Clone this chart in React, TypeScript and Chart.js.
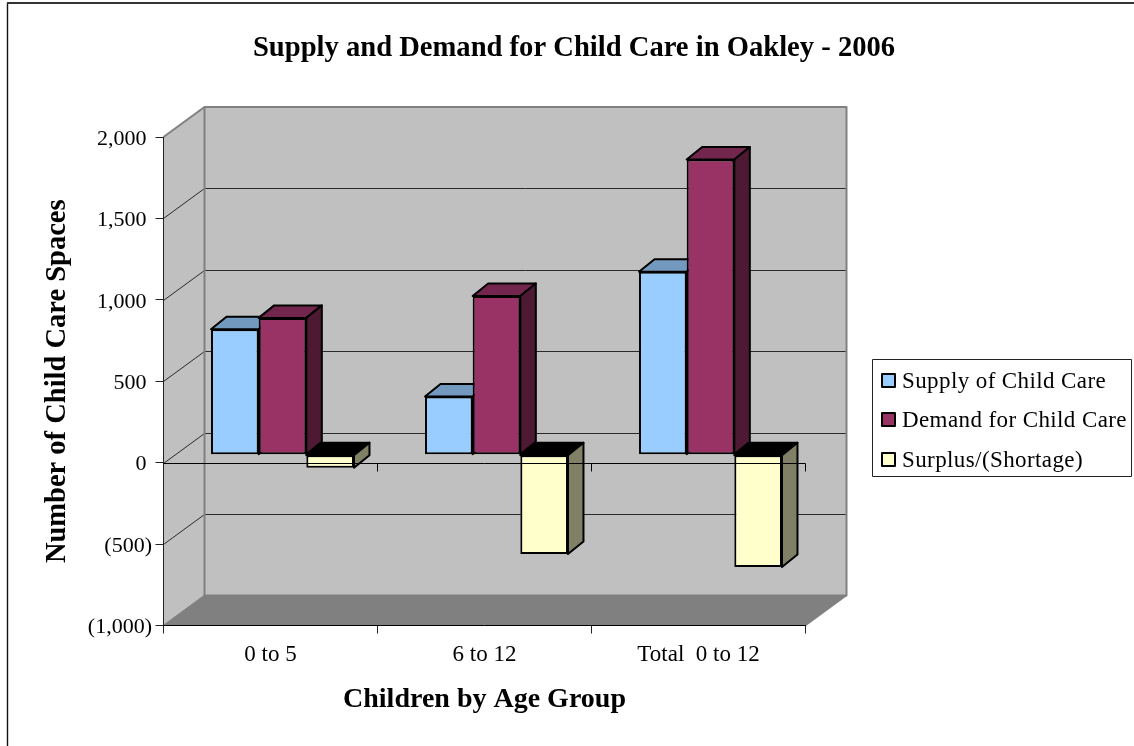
import React, { useEffect, useRef } from "react";
import { Chart, registerables } from "chart.js";

Chart.register(...registerables);

const categories = ["0 to 5", "6 to 12", "Total  0 to 12"];
const supply = [770, 357, 1123];
const demand = [840, 975, 1813];
const surplus = [-80, -610, -690];

const seriesNames = ["Supply of Child Care", "Demand for Child Care", "Surplus/(Shortage)"];
const fills = ["#99CCFF", "#993366", "#FFFFCC"];
const tops = ["#7399BF", "#73264D", "#000000"];
const sides = ["#4D6680", "#4D1933", "#808066"];

const SERIF = "'Liberation Serif', serif";
const WALL_DX = 41;
const WALL_DY = -30;
const BAR_DX = 12;
const BAR_DY = -8;
const DEPTH_DX = 15.5;
const DEPTH_DY = -12.5;

function poly(ctx: CanvasRenderingContext2D, pts: number[][], fill?: string, stroke?: string, lw = 1) {
  ctx.beginPath();
  ctx.lineJoin = "round";
  pts.forEach((p, i) => (i ? ctx.lineTo(p[0], p[1]) : ctx.moveTo(p[0], p[1])));
  if (fill) {
    ctx.closePath();
    ctx.fillStyle = fill;
    ctx.fill();
  }
  if (stroke) {
    ctx.strokeStyle = stroke;
    ctx.lineWidth = lw;
    ctx.stroke();
  }
}

const walls3d = {
  id: "walls3d",
  afterLayout(chart: any) {
    if (chart.titleBlock) {
      chart.titleBlock.left = 14;
      chart.titleBlock.right = 1134;
    }
  },
  beforeDraw(chart: any) {
    const { ctx, chartArea: a, scales } = chart;
    const { left: l, right: r, top: t, bottom: b } = a;
    const dx = WALL_DX;
    const dy = WALL_DY;
    ctx.save();
    ctx.fillStyle = "#fff";
    ctx.fillRect(0, 0, chart.width, chart.height);
    // outer chart frame
    poly(ctx, [[7.5, 746], [7.5, 3]], undefined, "#111", 1.4);
    poly(ctx, [[7, 3], [1134, 3]], undefined, "#333", 2);
    // left wall, back wall, floor
    poly(ctx, [[l, t], [l + dx, t + dy], [l + dx, b + dy], [l, b]], "#C0C0C0");
    poly(ctx, [[l + dx, t + dy], [r + dx, t + dy], [r + dx, b + dy], [l + dx, b + dy]], "#C0C0C0");
    poly(ctx, [[l, b], [l + dx, b + dy], [r + dx, b + dy], [r, b]], "#808080");
    // gridlines across side and back walls
    const y = scales.y;
    y.ticks.forEach((tk: any) => {
      if (tk.value === y.min || tk.value === y.max) return;
      const py = Math.round(y.getPixelForValue(tk.value)) + 0.5;
      poly(ctx, [[l, py], [l + dx, py + dy], [r + dx, py + dy]], undefined, "#2a2a2a", 1);
    });
    // wall edges
    poly(ctx, [[l, t], [l + dx, t + dy], [r + dx, t + dy], [r + dx, b + dy], [l + dx, b + dy], [l + dx, t + dy]], undefined, "#808080", 2);
    poly(ctx, [[l, b], [l + dx, b + dy]], undefined, "#808080", 1.5);
    poly(ctx, [[r, b], [r + dx, b + dy]], undefined, "#808080", 1.5);
    // legend frame
    ctx.strokeStyle = "#222";
    ctx.lineWidth = 1;
    ctx.strokeRect(872.5, 359.5, 259, 117);
    ctx.restore();
  },
  beforeDatasetsDraw(chart: any) {
    const { ctx, chartArea: a, scales } = chart;
    chart.data.datasets.forEach((_: any, di: number) => {
      const meta = chart.getDatasetMeta(di);
      meta.data.forEach((el: any) => {
        const { x, y, base, width } = el.getProps(["x", "y", "base", "width"], true);
        const L = x - width / 2 + BAR_DX;
        const R = x + width / 2 + BAR_DX;
        const T = Math.min(y, base) + BAR_DY;
        const B = Math.max(y, base) + BAR_DY;
        poly(ctx, [[L, T], [L + DEPTH_DX, T + DEPTH_DY], [R + DEPTH_DX, T + DEPTH_DY], [R, T]], tops[di], "#000", 2);
        poly(ctx, [[R, T], [R + DEPTH_DX, T + DEPTH_DY], [R + DEPTH_DX, B + DEPTH_DY], [R, B]], sides[di], "#000", 2);
        ctx.save();
        ctx.translate(BAR_DX, BAR_DY);
        el.draw(ctx, a);
        ctx.restore();
      });
    });
    // the zero axis runs in front of the bars
    const py = Math.round(scales.y.getPixelForValue(0)) + 0.5;
    poly(ctx, [[a.left, py], [a.right, py]], undefined, "#000", 1);
    const xs = scales.x;
    const half = (xs.getPixelForValue(1) - xs.getPixelForValue(0)) / 2;
    categories.forEach((_, i) => {
      const px = Math.floor(xs.getPixelForValue(i) + half) + 0.5;
      poly(ctx, [[px, py], [px, py + 8]], undefined, "#000", 1);
    });
    return false;
  },
  afterDraw(chart: any) {
    // legend, from the dataset labels and colours
    const { ctx } = chart;
    const rows = [380.5, 419.5, 459.5];
    ctx.save();
    ctx.font = `23px ${SERIF}`;
    (ctx as any).letterSpacing = "0.4px";
    ctx.textBaseline = "middle";
    ctx.textAlign = "left";
    chart.data.datasets.forEach((ds: any, i: number) => {
      ctx.fillStyle = ds.backgroundColor;
      ctx.strokeStyle = "#000";
      ctx.lineWidth = 2;
      ctx.fillRect(882, rows[i] - 6.5, 13, 13);
      ctx.strokeRect(882, rows[i] - 6.5, 13, 13);
      ctx.fillStyle = "#000";
      ctx.fillText(ds.label, 902, rows[i] + 1);
    });
    ctx.restore();
  },
};

export default function App() {
  const ref = useRef<HTMLCanvasElement | null>(null);
  useEffect(() => {
    const values = [supply, demand, surplus];
    const chart = new Chart(ref.current as HTMLCanvasElement, {
      type: "bar",
      data: {
        labels: categories,
        datasets: values.map((d, i) => ({
          label: seriesNames[i],
          data: d,
          backgroundColor: fills[i],
          borderColor: "#000",
          borderWidth: 2,
          borderSkipped: false,
          categoryPercentage: 0.668,
          barPercentage: 1,
        })),
      },
      options: {
        responsive: false,
        animation: false,
        layout: { autoPadding: false, padding: { left: 14, right: 328.5, top: 0, bottom: 0 } },
        plugins: {
          legend: { display: false },
          tooltip: { enabled: false },
          title: {
            display: true,
            text: "Supply and Demand for Child Care in Oakley - 2006",
            color: "#000",
            font: { family: SERIF, size: 28.6, weight: "bold", lineHeight: 1.2 },
            padding: { top: 31, bottom: 71.7 },
          },
        },
        scales: {
          x: {
            afterFit(s: any) {
              s.height = 120.5;
            },
            border: { display: true, color: "#000", width: 1 },
            grid: { display: true, drawOnChartArea: false, tickLength: 8, color: "#222", offset: true },
            ticks: { color: "#000", font: { family: SERIF, size: 23 }, padding: 8, maxRotation: 0 },
            title: {
              display: true,
              text: "Children by Age Group",
              color: "#000",
              font: { family: SERIF, size: 28, weight: "bold", lineHeight: 1.2 },
              padding: { top: 0, bottom: 29 },
            },
          },
          y: {
            min: -1000,
            max: 2000,
            afterFit(s: any) {
              s.width = 149.5;
            },
            border: { display: true, color: "#222", width: 1 },
            grid: { display: true, drawOnChartArea: false, tickLength: 8, color: "#222" },
            ticks: {
              stepSize: 500,
              color: "#000",
              font: { family: SERIF, size: 22, lineHeight: "4px" },
              padding: 3.5,
              callback(v: any) {
                const s = Math.abs(v).toLocaleString("en-US");
                return ["", v < 0 ? `(${s})` : `${s}\u00A0`];
              },
            },
            title: {
              display: true,
              text: "Number of Child Care Spaces",
              color: "#000",
              font: { family: SERIF, size: 28.5, weight: "bold", lineHeight: 1.2 },
              padding: { top: 27, bottom: 0 },
            },
          },
        },
      },
      plugins: [walls3d],
    } as any);
    return () => chart.destroy();
  }, []);
  return (
    <canvas
      ref={ref}
      width={1134}
      height={746}
      style={{ position: "absolute", left: 0, top: 0, display: "block" }}
    />
  );
}
